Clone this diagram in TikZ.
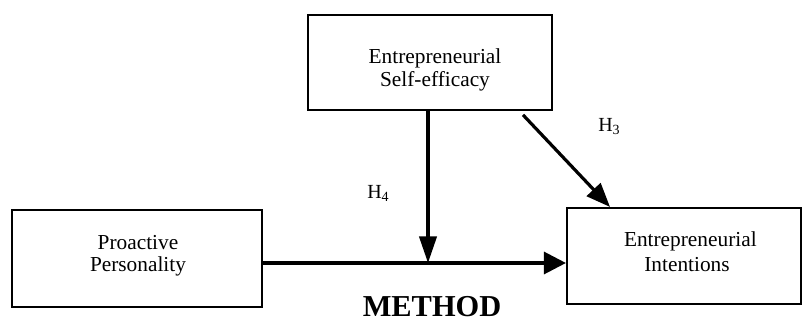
\documentclass[tikz,border=0pt]{standalone}
\usepackage{fontspec}
\setmainfont{Liberation Serif}
\usetikzlibrary{arrows.meta,calc}
\begin{document}
\begin{tikzpicture}[x=0.75pt,y=-0.75pt,
  box/.style={draw,line width=1.6pt,inner sep=0pt},
  txt/.style={align=center,inner sep=0pt},
  arr/.style={line width=2.4pt},
  lbl/.style={font=\fontsize{15}{17}\selectfont,inner sep=0pt}]
\useasboundingbox (0,0) rectangle (805,320);
\node[box,minimum width=183pt,minimum height=71pt] (top) at (430,62.5) {};
\node[box,minimum width=187.5pt,minimum height=72.5pt] (left) at (137,258.5) {};
\node[box,minimum width=175.5pt,minimum height=72pt] (right) at (684,256) {};
\node[txt,font=\fontsize{16}{17.25}\selectfont] (toptxt) at (435,69.5) {Entrepreneurial\\Self-efficacy};
\node[txt,font=\fontsize{16}{16.5}\selectfont] (lefttxt) at (138,256) {Proactive\\Personality};
\node[txt,font=\fontsize{16}{18.75}\selectfont] (righttxt) at (687,252) {\hspace*{5pt}Entrepreneurial\\Intentions};
\coordinate (j) at (428,263);
\draw[arr,-{Triangle[length=16.5pt,width=16.5pt]}] (left.east |- j) -- (right.west |- j);
\draw[arr,-{Triangle[length=20pt,width=13pt]}] (top.south -| j) -- (j);
\draw[arr,-{Triangle[length=18pt,width=14pt]}] ([xshift=69.75pt,yshift=-3pt]top.south) -- ([xshift=-55.5pt]right.north);
\node[lbl,anchor=base west] (h3) at (598,132) {H\textsubscript{3}};
\node[lbl,anchor=base west] (h4) at (367,199) {H\textsubscript{4}};
\node[font=\fontsize{22.8}{24}\selectfont\bfseries,inner sep=0pt,anchor=base] (m) at (432,316) {METHOD};
\end{tikzpicture}
\end{document}
